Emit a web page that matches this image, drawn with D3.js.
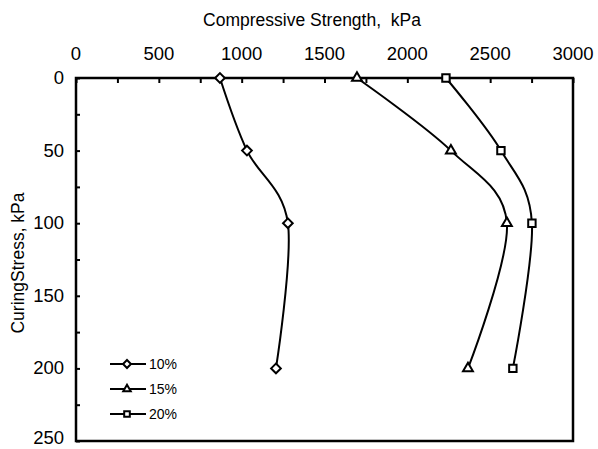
<!DOCTYPE html>
<html>
<head>
<meta charset="utf-8">
<script src="https://cdn.jsdelivr.net/npm/d3@7"></script>
<style>
  html, body { margin: 0; padding: 0; background: #fff; }
  svg { display: block; }
  text { font-family: "Liberation Sans", Arial, sans-serif; fill: #000; white-space: pre; }
</style>
</head>
<body>
<svg id="chart" width="598" height="449"></svg>
<script>
// Curing stress levels (kPa)
const curingStress = [0, 50, 100, 200];
// Unconfined compressive strength (kPa) for each binder content
const strength10 = [869, 1032, 1279, 1207];
const strength15 = [1696, 2263, 2601, 2366];
const strength20 = [2233, 2565, 2752, 2637];
const seriesNames = ["10%", "15%", "20%"];
const markerTypes = ["diamond", "triangle", "square"];
const xTickLabels = [0, 500, 1000, 1500, 2000, 2500, 3000];
const yTickLabels = [0, 50, 100, 150, 200, 250];

const svg = d3.select("#chart");
const W = 598, H = 449;
const m = { left: 76, right: 573, top: 78, bottom: 441 };

const x = d3.scaleLinear().domain([0, 3000]).range([m.left, m.right]);
const y = d3.scaleLinear().domain([0, 250]).range([m.top, m.bottom]);

// Frame
svg.append("rect")
  .attr("x", m.left).attr("y", m.top)
  .attr("width", m.right - m.left).attr("height", m.bottom - m.top)
  .attr("fill", "none").attr("stroke", "#000").attr("stroke-width", 2.5);

// Top axis: ticks every 250 pointing inward, labels every 500
const xAxis = d3.axisTop(x).tickValues(d3.range(0, 3001, 250)).tickSize(-5).tickFormat("");
svg.append("g").attr("transform", `translate(0,${m.top})`).call(xAxis)
  .call(g => g.select(".domain").remove())
  .call(g => g.selectAll("line").attr("stroke-width", 2));
svg.append("g").selectAll("text").data(xTickLabels).join("text")
  .attr("x", d => x(d)).attr("y", 60)
  .attr("text-anchor", "middle").attr("font-size", 18.5)
  .text(d => d);

// Left axis: ticks every 25 pointing inward, labels every 50
const yAxis = d3.axisLeft(y).tickValues(d3.range(0, 251, 25)).tickSize(-4).tickFormat("");
svg.append("g").attr("transform", `translate(${m.left},0)`).call(yAxis)
  .call(g => g.select(".domain").remove())
  .call(g => g.selectAll("line").attr("stroke-width", 2));
// Baseline kept inside the canvas for the lowest label
svg.append("g").selectAll("text").data(yTickLabels).join("text")
  .attr("x", 64).attr("y", d => Math.min(y(d) + 6, H - 5))
  .attr("text-anchor", "end").attr("font-size", 18.5)
  .text(d => d);

// Axis titles
svg.append("text").attr("x", 312).attr("y", 26)
  .attr("text-anchor", "middle").attr("font-size", 17.5)
  .text("Compressive Strength,  kPa");
svg.append("text")
  .attr("transform", "translate(24,263) rotate(-90)")
  .attr("text-anchor", "middle").attr("font-size", 17.5)
  .text("CuringStress, kPa");

// Marker shapes
const symbolFor = {
  diamond: d3.symbol().type(d3.symbolDiamond2).size(60),
  triangle: d3.symbol().type(d3.symbolTriangle2).size(70),
  square: d3.symbol().type(d3.symbolSquare2).size(70)
};

const series = [strength10, strength15, strength20].map((vals, i) => ({
  name: seriesNames[i],
  marker: markerTypes[i],
  points: vals.map((v, j) => ({ s: v, c: curingStress[j] }))
}));

const line = d3.line()
  .x(d => x(d.s)).y(d => y(d.c))
  .curve(d3.curveCatmullRom.alpha(0));

const gSeries = svg.append("g");
series.forEach(sr => {
  gSeries.append("path").datum(sr.points)
    .attr("d", line).attr("fill", "none")
    .attr("stroke", "#000").attr("stroke-width", 2);
  gSeries.selectAll(null).data(sr.points).join("path")
    .attr("transform", d => `translate(${x(d.s)},${y(d.c)})`)
    .attr("d", symbolFor[sr.marker]())
    .attr("fill", "#fff").attr("stroke", "#000").attr("stroke-width", 2);
});

// Legend
const legend = svg.append("g");
series.forEach((sr, i) => {
  const ly = 364 + i * 25;
  legend.append("line").attr("x1", 110).attr("x2", 146).attr("y1", ly).attr("y2", ly)
    .attr("stroke", "#000").attr("stroke-width", 2);
  legend.append("path").attr("transform", `translate(127,${ly})`)
    .attr("d", symbolFor[sr.marker].size(40)())
    .attr("fill", "#fff").attr("stroke", "#000").attr("stroke-width", 2);
  legend.append("text").attr("x", 149).attr("y", ly).attr("dy", "0.35em")
    .attr("font-size", 14).text(sr.name);
});
</script>
</body>
</html>
